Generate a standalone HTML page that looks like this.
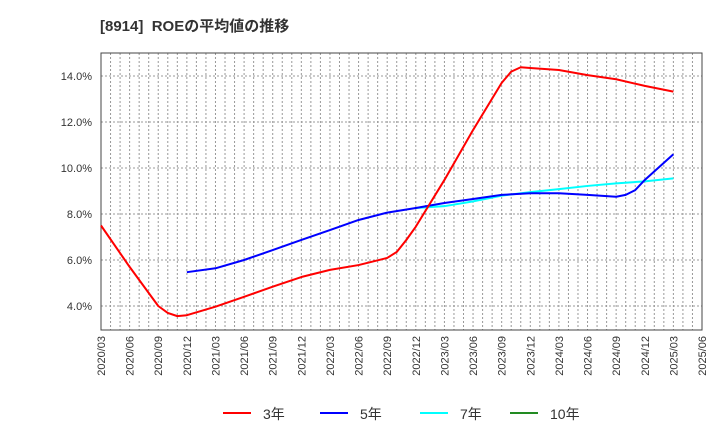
<!DOCTYPE html>
<html><head><meta charset="utf-8"><style>
body{margin:0;background:#fff;font-family:"Liberation Sans","Noto Sans CJK JP",sans-serif;}
svg text{font-family:"Liberation Sans","Noto Sans CJK JP",sans-serif;}
</style></head><body>
<svg id="c" width="720" height="440" xmlns="http://www.w3.org/2000/svg">
<text x="100" y="31" font-size="15" font-weight="bold" fill="#333" style="white-space:pre">[8914]  ROEの平均値の推移</text>
</svg>
<script>
const xLabels=["2020/03","2020/06","2020/09","2020/12","2021/03","2021/06","2021/09","2021/12","2022/03","2022/06","2022/09","2022/12","2023/03","2023/06","2023/09","2023/12","2024/03","2024/06","2024/09","2024/12","2025/03","2025/06"];
const yTicks=[4,6,8,10,12,14];
const s3Dates=["2020/03","2020/06","2020/09","2020/10","2020/11","2020/12","2021/03","2021/06","2021/09","2021/12","2022/03","2022/06","2022/09","2022/10","2022/11","2022/12","2023/03","2023/06","2023/09","2023/10","2023/11","2023/12","2024/03","2024/06","2024/09","2024/12","2025/03"];
const s3Vals=[7.5,5.7,4.0,3.7,3.56,3.6,3.97,4.4,4.84,5.26,5.57,5.78,6.09,6.35,6.87,7.45,9.48,11.65,13.7,14.19,14.38,14.35,14.26,14.04,13.86,13.57,13.32];
const s5Dates=["2020/12","2021/03","2021/06","2021/09","2021/12","2022/03","2022/06","2022/09","2022/12","2023/03","2023/06","2023/09","2023/12","2024/03","2024/06","2024/09","2024/10","2024/11","2024/12","2025/03"];
const s5Vals=[5.47,5.64,6.0,6.43,6.87,7.3,7.74,8.06,8.26,8.48,8.65,8.83,8.9,8.9,8.83,8.75,8.83,9.04,9.48,10.6];
const s7Dates=["2022/12","2023/03","2023/06","2023/09","2023/12","2024/03","2024/06","2024/09","2024/12","2025/03"];
const s7Vals=[8.26,8.34,8.55,8.8,8.95,9.08,9.22,9.33,9.42,9.55];
const NS="http://www.w3.org/2000/svg";
const svg=document.getElementById('c');
const L=101,R=702,T=53,B=330;
function mi(d){const[a,b]=d.split('/').map(Number);return (a-2020)*12+(b-3);}
function X(d){return L+(R-L)*mi(d)/63;}
function Y(v){return 76+(14-v)*23;}
function mk(t,at){const e=document.createElementNS(NS,t);for(const k in at)e.setAttribute(k,at[k]);svg.appendChild(e);return e;}
let e;
for(let m=1;m<63;m++){const x=L+(R-L)*m/63;
e=mk('line',{x1:x,y1:T,x2:x,y2:B,stroke:'#999','stroke-dasharray':'2,2','stroke-width':1});

}
yTicks.forEach(v=>{const y=Y(v);
e=mk('line',{x1:L,y1:y,x2:R,y2:y,stroke:'#999','stroke-dasharray':'2,2','stroke-width':1});


e=mk('text',{x:92,y:y+4,'font-size':11,'text-anchor':'end',fill:'#333'});e.textContent=v.toFixed(1)+'%';

});
e=mk('rect',{x:L,y:T,width:R-L,height:B-T,fill:'none',stroke:'#444','stroke-width':1});


xLabels.forEach(d=>{const x=X(d);
e=mk('text',{x:0,y:0,'font-size':11,'text-anchor':'end',fill:'#333',transform:`translate(${x+4},${B+6}) rotate(-90)`});e.textContent=d;

});
function line(ds,vs,c,n){e=mk('polyline',{points:ds.map((d,i)=>X(d)+','+Y(vs[i])).join(' '),fill:'none',stroke:c,'stroke-width':2,'stroke-linejoin':'round'});

}
line(s7Dates,s7Vals,'#00ffff','series-7yr');
line(s5Dates,s5Vals,'#0000ff','series-5yr');
line(s3Dates,s3Vals,'#ff0000','series-3yr');
[['3年','#ff0000',223],['5年','#0000ff',320],['7年','#00ffff',420],['10年','#228b22',510]].forEach(([t,c,x])=>{
e=mk('line',{x1:x,y1:413,x2:x+28,y2:413,stroke:c,'stroke-width':2});


e=mk('text',{x:x+40,y:419,'font-size':14,fill:'#333'});e.textContent=t;

});
</script>
</body></html>
